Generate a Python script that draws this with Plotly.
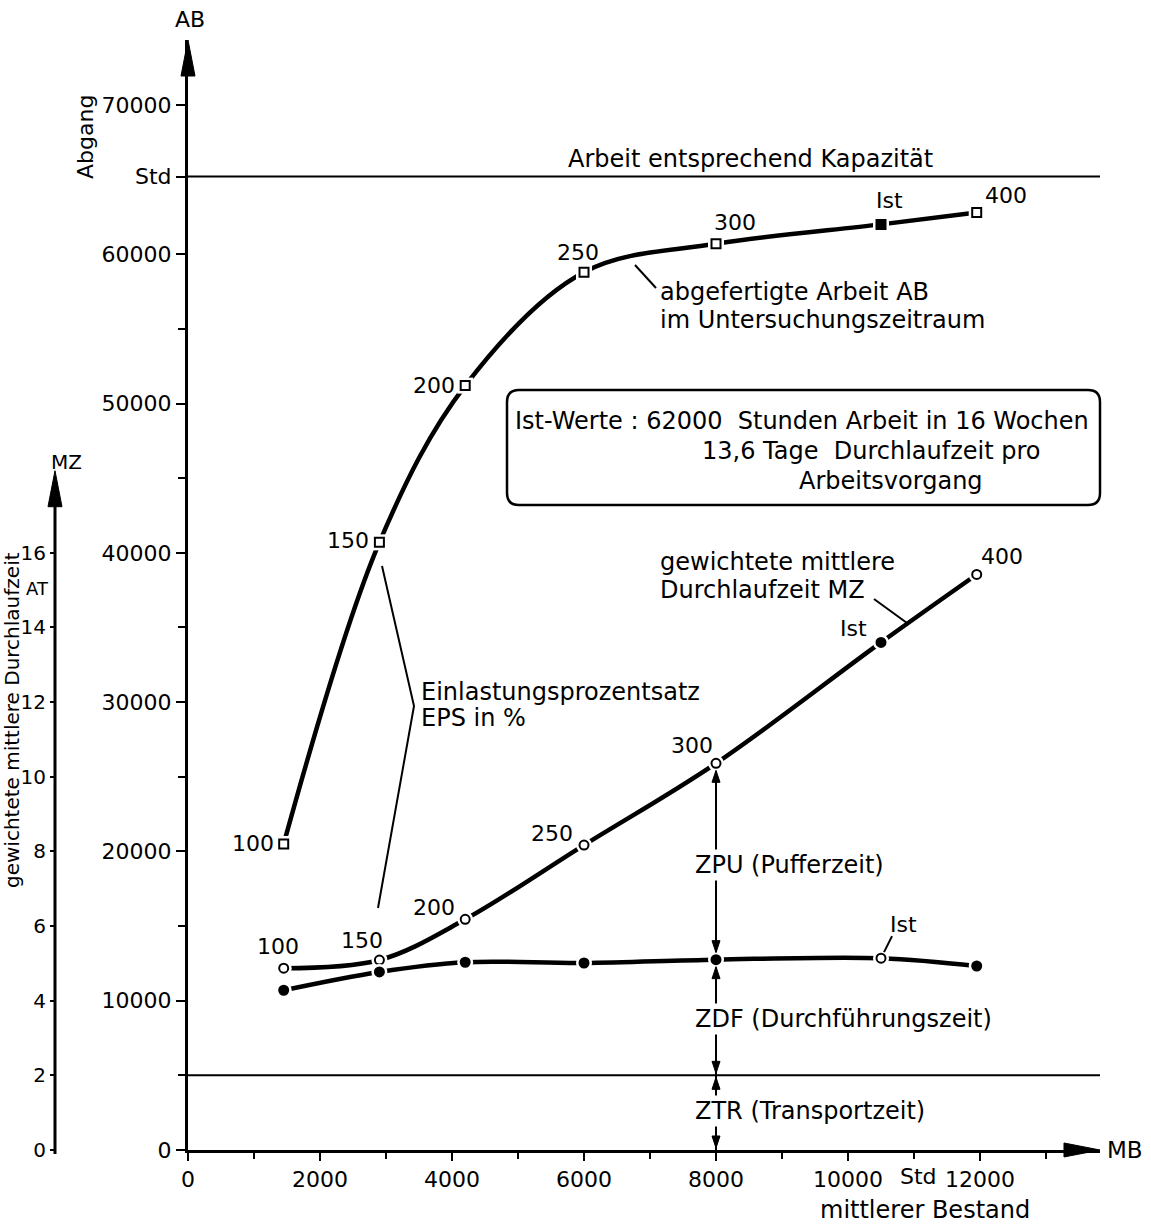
import plotly.graph_objects as go

# ---------------- Daten ----------------
EPS_LABELS = ["100", "150", "200", "250", "300", "Ist", "400"]   # Einlastungsprozentsatz
MB = [1450, 2900, 4200, 6000, 8000, 10500, 11950]                 # mittlerer Bestand [Std]
AB = [20500, 40700, 51200, 58800, 60700, 62000, 62800]            # Abgang [Std]
MZ = [4.87, 5.09, 6.18, 8.17, 10.36, 13.6, 15.42]                 # gew. mittlere Durchlaufzeit [AT]
ZDF_ZTR = [4.28, 4.77, 5.03, 5.01, 5.10, 5.14, 4.93]              # Durchfuehrungs- + Transportzeit [AT]
IST_INDEX = 5
ZTR = 2.0                 # Transportzeit [AT]
KAPAZITAET = 65200        # Arbeit entsprechend Kapazitaet [Std]

X_TICKS = [0, 2000, 4000, 6000, 8000, 10000, 12000]
AB_TICKS = [0, 10000, 20000, 30000, 40000, 50000, 60000, 70000]
MZ_TICKS = [0, 2, 4, 6, 8, 10, 12, 14, 16]

# ---------------- Geometrie ----------------
W, H = 1151, 1227
PL, PR, PT, PB = 188, 1100, 40, 1150      # Zeichenflaeche in Pixeln
X_MAX = 13818
Y_MAX = 74350
AB_PER_TAG = 2500                          # Skalenverhaeltnis AB / MZ
Y2_MAX = Y_MAX / AB_PER_TAG
MZ_AXIS_X = 55

FONT = "DejaVu Sans"
FS = 24       # Beschriftungen
FT = 22       # Achsenzahlen und Punktwerte


def fx(v):
    return PL + v / X_MAX * (PR - PL)


def fy(v):
    return PB - v / Y_MAX * (PB - PT)


def fy2(v):
    return fy(v * AB_PER_TAG)


def pp(x, y):
    return x / W, 1 - y / H


def path(points, close=True):
    s = ""
    for i, (x, y) in enumerate(points):
        px, py = pp(x, y)
        s += ("M" if i == 0 else "L") + f"{px:.5f},{py:.5f} "
    return s + ("Z" if close else "")


def arrowhead(x, y, direction, length=12, half=4):
    """Filled triangle with its tip at pixel (x, y)."""
    if direction == "up":
        pts = [(x, y), (x - half, y + length), (x + half, y + length)]
    elif direction == "down":
        pts = [(x, y), (x - half, y - length), (x + half, y - length)]
    else:  # right
        pts = [(x, y), (x - length, y - half), (x - length, y + half)]
    return dict(type="path", path=path(pts), xref="paper", yref="paper",
                fillcolor="black", line=dict(color="black", width=1), layer="above")


def pline(points, width=2):
    return dict(type="path", path=path(points, close=False), xref="paper", yref="paper",
                line=dict(color="black", width=width), layer="above")


def rounded_rect(x0, y0, x1, y1, r):
    def p(x, y):
        a, b = pp(x, y)
        return f"{a:.5f},{b:.5f}"
    s = (f"M{p(x0 + r, y0)} L{p(x1 - r, y0)} Q{p(x1, y0)} {p(x1, y0 + r)} "
         f"L{p(x1, y1 - r)} Q{p(x1, y1)} {p(x1 - r, y1)} "
         f"L{p(x0 + r, y1)} Q{p(x0, y1)} {p(x0, y1 - r)} "
         f"L{p(x0, y0 + r)} Q{p(x0, y0)} {p(x0 + r, y0)} Z")
    return dict(type="path", path=s, xref="paper", yref="paper",
                line=dict(color="black", width=2.5), layer="above")


fig = go.Figure()

LINE = dict(color="black", width=4.5, shape="spline", smoothing=1.0)


def add_curve(x, y, yaxis, symbol, filled_index_set, size):
    fig.add_trace(go.Scatter(x=x, y=y, yaxis=yaxis, mode="lines", line=LINE,
                             hoverinfo="skip", showlegend=False))
    # white halo leaves a small gap between line and marker
    fig.add_trace(go.Scatter(x=x, y=y, yaxis=yaxis, mode="markers",
                             marker=dict(size=size + 7, color="white", symbol=symbol),
                             hoverinfo="skip", showlegend=False))
    colors = ["black" if i in filled_index_set else "white" for i in range(len(x))]
    fig.add_trace(go.Scatter(x=x, y=y, yaxis=yaxis, mode="markers",
                             marker=dict(size=size, color=colors, symbol=symbol,
                                         line=dict(color="black", width=2)),
                             showlegend=False))


add_curve(MB, AB, "y", "square", {IST_INDEX}, 9)
add_curve(MB, MZ, "y2", "circle", {IST_INDEX}, 9)
add_curve(MB, ZDF_ZTR, "y2", "circle",
          {i for i in range(len(MB)) if i != IST_INDEX}, 9)

shapes = []
annotations = []


def text(x, y, s, size=FS, xanchor="left", yanchor="middle", angle=0, bg=None):
    px, py = pp(x, y)
    a = dict(x=px, y=py, xref="paper", yref="paper", text=s, showarrow=False,
             xanchor=xanchor, yanchor=yanchor, textangle=angle,
             font=dict(family=FONT, size=size, color="black"))
    if bg:
        a["bgcolor"] = bg
    annotations.append(a)


# Achsenpfeile
shapes.append(arrowhead(PL, PT, "up", 36, 7))
shapes.append(arrowhead(PR, PB, "right", 36, 7))
mz_top = fy2(18.2)
shapes.append(dict(type="line", xref="paper", yref="paper",
                   x0=MZ_AXIS_X / W, x1=MZ_AXIS_X / W, y0=1 - (PB + 4) / H, y1=1 - (mz_top + 20) / H,
                   line=dict(color="black", width=3)))
shapes.append(arrowhead(MZ_AXIS_X, mz_top, "up", 36, 7))

# Kapazitaetslinie und Transportzeitlinie
shapes.append(dict(type="line", xref="x", yref="y", x0=0, x1=X_MAX, y0=KAPAZITAET, y1=KAPAZITAET,
                   line=dict(color="black", width=2), layer="below"))
shapes.append(dict(type="line", xref="x", yref="y2", x0=0, x1=X_MAX, y0=ZTR, y1=ZTR,
                   line=dict(color="black", width=2), layer="below"))

# Zerlegung der Durchlaufzeit bei MB = 8000
i300 = 4
xv = fx(MB[i300])
shapes.append(dict(type="line", xref="x", yref="y2", x0=MB[i300], x1=MB[i300], y0=0, y1=MZ[i300],
                   line=dict(color="black", width=2), layer="below"))
y_top = fy2(MZ[i300]) + 7
y_dot = fy2(ZDF_ZTR[i300])
y_ztr = fy2(ZTR)
shapes += [
    arrowhead(xv, y_top, "up"),
    arrowhead(xv, y_dot - 7, "down"),
    arrowhead(xv, y_dot + 7, "up"),
    arrowhead(xv, y_ztr - 2, "down"),
    arrowhead(xv, y_ztr + 2, "up"),
    arrowhead(xv, PB - 2, "down"),
]
text(693, (y_top + y_dot) / 2, "ZPU (Pufferzeit)", bg="white")
text(693, (y_dot + y_ztr) / 2 + 1, "ZDF (Durchführungszeit)", bg="white")
text(693, (y_ztr + PB) / 2 - 2, "ZTR (Transportzeit)", bg="white")

# Infokasten
shapes.append(rounded_rect(507, 390, 1100, 505, 12))
text(513, 421, "Ist-Werte : %d  Stunden Arbeit in 16 Wochen" % AB[IST_INDEX])
text(700, 451, ("%.1f" % MZ[IST_INDEX]).replace(".", ",") + " Tage  Durchlaufzeit pro")
text(797, 481, "Arbeitsvorgang")

# Beschriftungen der Kurven
text(658, 292, "abgefertigte Arbeit AB")
text(658, 320, "im Untersuchungszeitraum")
shapes.append(pline([(635, 265), (656, 288)]))

text(658, 562, "gewichtete mittlere")
text(658, 590, "Durchlaufzeit MZ")
shapes.append(pline([(874, 599), (907, 623)]))

text(419, 692, "Einlastungsprozentsatz")
text(419, 718, "EPS in %")
shapes.append(pline([(382, 566), (414, 706), (378, 908)]))

# Punktbeschriftungen (EPS-Werte)
AB_OFF = [(-8, 0, "right"), (-8, 2, "right"), (-8, 0, "right"), (-6, 20, "center"),
          (19, 21, "center"), (8, 24, "center"), (29, 17, "center")]
MZ_OFF = [(-6, 22), (-17, 20), (-31, 12), (-32, 12), (-24, 18), (-28, 14), (25, 18)]
for i, lab in enumerate(EPS_LABELS):
    dx, dy, anc = AB_OFF[i]
    annotations.append(dict(x=MB[i], y=AB[i], xref="x", yref="y", text=lab, showarrow=False,
                            xanchor=anc, yanchor="middle", xshift=dx, yshift=dy,
                            font=dict(family=FONT, size=FT, color="black")))
    dx, dy = MZ_OFF[i]
    annotations.append(dict(x=MB[i], y=MZ[i], xref="x", yref="y2", text=lab, showarrow=False,
                            xanchor="center", yanchor="middle", xshift=dx, yshift=dy,
                            font=dict(family=FONT, size=FT, color="black")))
annotations.append(dict(x=MB[IST_INDEX], y=ZDF_ZTR[IST_INDEX], xref="x", yref="y2", text="Ist",
                        showarrow=False, xanchor="center", yanchor="middle", xshift=22, yshift=34,
                        font=dict(family=FONT, size=FT, color="black")))
xi, yi = fx(MB[IST_INDEX]), fy2(ZDF_ZTR[IST_INDEX])
shapes.append(pline([(xi + 3, yi - 6), (xi + 11, yi - 22)]))

# Achsentitel
text(190, 20, "AB", size=22, xanchor="center")
text(85, 137, "Abgang", size=22, xanchor="center", angle=-90)
text(66, 462, "MZ", size=20, xanchor="center")
text(37, 588, "AT", size=18, xanchor="center")
text(12, 720, "gewichtete mittlere Durchlaufzeit", size=20, xanchor="center", angle=-90)
text(1105, PB, "MB", size=23)
text(918, 1176, "Std", size=FT, xanchor="center")
text(925, 1210, "mittlerer Bestand", size=FS, xanchor="center")
text(750, 159, "Arbeit entsprechend Kapazität", size=FS, xanchor="center")

tickfont = dict(family=FONT, size=FT, color="black")

fig.update_layout(
    width=W, height=H,
    margin=dict(l=0, r=0, t=0, b=0, autoexpand=False),
    paper_bgcolor="white", plot_bgcolor="white",
    showlegend=False,
    xaxis=dict(domain=[PL / W, PR / W], range=[0, X_MAX], showgrid=False, zeroline=False,
               showline=True, linecolor="black", linewidth=3,
               tickmode="array", tickvals=X_TICKS, ticktext=[str(v) for v in X_TICKS],
               ticks="outside", ticklen=8, tickwidth=2, tickcolor="black", tickfont=tickfont,
               minor=dict(dtick=1000, tick0=0, ticks="outside", ticklen=6, tickwidth=2,
                          tickcolor="black", showgrid=False)),
    yaxis=dict(domain=[1 - PB / H, 1 - PT / H], range=[0, Y_MAX], showgrid=False, zeroline=False,
               showline=True, linecolor="black", linewidth=3,
               tickmode="array", tickvals=AB_TICKS + [KAPAZITAET],
               ticktext=[str(v) for v in AB_TICKS] + ["Std"],
               ticks="outside", ticklen=9, tickwidth=2, tickcolor="black", tickfont=tickfont,
               minor=dict(tickmode="array", tickvals=[5000, 15000, 25000, 35000, 45000, 55000],
                          ticks="outside", ticklen=7, tickwidth=2, tickcolor="black",
                          showgrid=False)),
    yaxis2=dict(overlaying="y", anchor="free", position=MZ_AXIS_X / W, side="left",
                range=[0, Y2_MAX], showgrid=False, zeroline=False, showline=False,
                tickmode="array", tickvals=MZ_TICKS, ticktext=[str(v) for v in MZ_TICKS],
                ticks="outside", ticklen=5, tickwidth=2, tickcolor="black",
                tickfont=dict(family=FONT, size=20, color="black")),
    shapes=shapes,
    annotations=annotations,
)

fig.write_html("out.html")
